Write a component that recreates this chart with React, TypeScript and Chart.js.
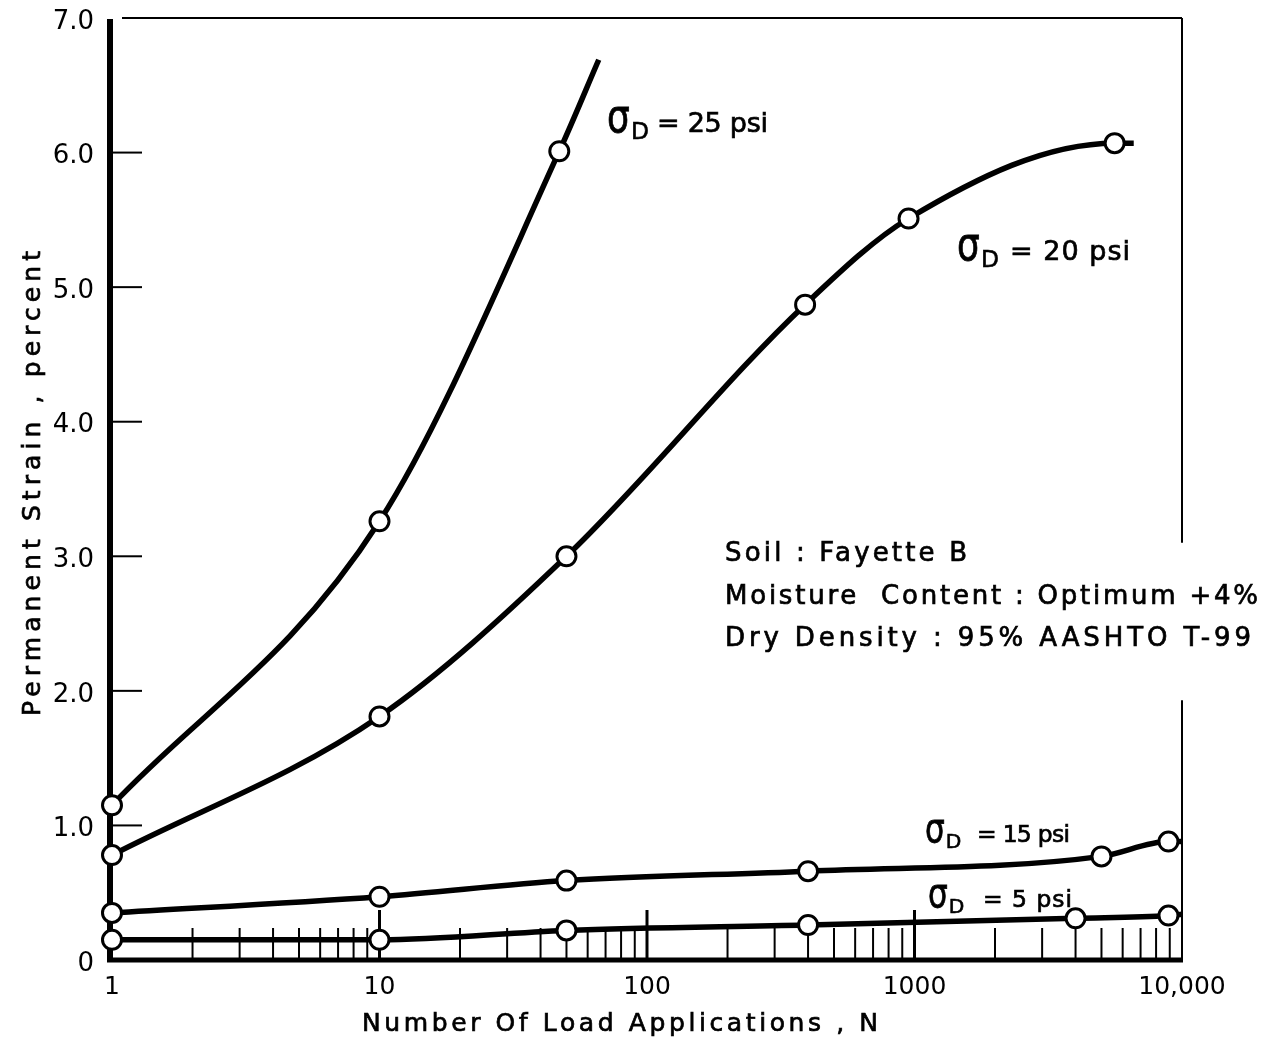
import React, { useEffect, useRef } from "react";
import { Chart, registerables } from "chart.js";

Chart.register(...registerables);

const FONT = '"DejaVu Sans", "Liberation Sans", Arial, sans-serif';

// ---- data ----
const xTickLabels: Record<number, string> = { 1: "1", 10: "10", 100: "100", 1000: "1000", 10000: "10,000" };
const yTickValues = [0, 1, 2, 3, 4, 5, 6, 7];
const yTickLabels = ["0", "1.0", "2.0", "3.0", "4.0", "5.0", "6.0", "7.0"];

const psi25N = [1, 10, 47, 66];
const psi25Strain = [1.15, 3.26, 6.01, 6.69];
const psi25Marker = [true, true, true, false];

const psi20N = [1, 10, 50, 390, 950, 5600, 6600];
const psi20Strain = [0.78, 1.81, 3.0, 4.87, 5.51, 6.07, 6.07];
const psi20Marker = [true, true, true, true, true, true, false];

const psi15N = [1, 10, 50, 400, 5000, 8900, 10000];
const psi15Strain = [0.35, 0.47, 0.59, 0.66, 0.77, 0.88, 0.88];
const psi15Marker = [true, true, true, true, true, true, false];

const psi5N = [1, 10, 50, 400, 4000, 8900, 10000];
const psi5Strain = [0.15, 0.15, 0.22, 0.26, 0.31, 0.33, 0.34];
const psi5Marker = [true, true, true, true, true, true, false];

const seriesLabels = ["25 psi", "20 psi", "15 psi", "5 psi"];
const infoLines = ["Soil : Fayette B", "Moisture  Content : Optimum +4%", "Dry Density : 95% AASHTO T-99"];
const xTitle = "Number Of Load Applications , N";
const yTitle = "Permanent Strain , percent";

const decades = [1, 10, 100, 1000];
const multipliers = [1, 2, 3, 4, 5, 6, 7, 8, 9];

function fitText(ctx: CanvasRenderingContext2D, text: string, x: number, y: number, width: number, stroke = 0.7) {
  (ctx as any).letterSpacing = "0px";
  const w = ctx.measureText(text).width;
  const n = Math.max(1, text.length - 1);
  const ls = (width - w) / n;
  (ctx as any).letterSpacing = `${ls}px`;
  ctx.textAlign = "left";
  ctx.fillText(text, x, y);
  if (stroke > 0) {
    ctx.lineWidth = stroke;
    ctx.strokeStyle = "#000";
    ctx.strokeText(text, x, y);
  }
  (ctx as any).letterSpacing = "0px";
}

function drawSigma(ctx: CanvasRenderingContext2D, x: number, eqX: number, base: number, size: number, end: number, text: string) {
  ctx.save();
  ctx.fillStyle = "#000";
  ctx.strokeStyle = "#000";
  ctx.textBaseline = "alphabetic";
  ctx.textAlign = "left";
  ctx.font = `${size * 1.2}px ${FONT}`;
  ctx.translate(x, base);
  ctx.scale(1, 1.3);
  ctx.fillText("σ", 0, 0);
  ctx.lineWidth = 0.6;
  ctx.strokeText("σ", 0, 0);
  ctx.restore();
  ctx.save();
  ctx.fillStyle = "#000";
  ctx.strokeStyle = "#000";
  ctx.textBaseline = "alphabetic";
  ctx.font = `${size * 0.78}px ${FONT}`;
  ctx.fillText("D", x + size * 0.8, base + size * 0.22);
  ctx.lineWidth = 0.6;
  ctx.strokeText("D", x + size * 0.8, base + size * 0.22);
  ctx.font = `${size * 0.9}px ${FONT}`;
  fitText(ctx, "= " + text, eqX, base, end - eqX);
  ctx.restore();
}

const framePlugin = {
  id: "frame",
  beforeDatasetsDraw(chart: any) {
    const { ctx, chartArea: a, scales } = chart;
    const xs = scales.x;
    const ys = scales.y;
    const line = (x1: number, y1: number, x2: number, y2: number, w: number) => {
      ctx.lineWidth = w;
      ctx.beginPath();
      ctx.moveTo(x1, y1);
      ctx.lineTo(x2, y2);
      ctx.stroke();
    };
    ctx.save();
    ctx.strokeStyle = "#000";
    ctx.lineCap = "butt";
    // left axis (thick)
    line(a.left - 2, a.top + 1, a.left - 2, a.bottom + 2, 6);
    // bottom axis (thick)
    line(a.left - 5, a.bottom, a.right + 1, a.bottom, 5);
    // top border
    line(a.left + 10, a.top, a.right, a.top, 2);
    // right border with gap for the note
    line(a.right, a.top, a.right, ys.getPixelForValue(3.1), 2);
    line(a.right, ys.getPixelForValue(1.93), a.right, a.bottom, 2);
    // y ticks inside
    for (let v = 1; v <= 6; v++) {
      const py = ys.getPixelForValue(v);
      line(a.left, py, a.left + 30, py, 2);
    }
    // x ticks inside (log minor + major)
    decades.forEach((d) => {
      multipliers.forEach((m) => {
        const v = d * m;
        if (v <= 1) return;
        const major = m === 1;
        const px = xs.getPixelForValue(v);
        line(px, a.bottom, px, a.bottom - (major ? 50 : 32), major ? 3 : 2);
      });
    });
    ctx.restore();
  },
  afterDraw(chart: any) {
    const { ctx } = chart;
    ctx.save();
    ctx.fillStyle = "#000";
    ctx.textBaseline = "alphabetic";
    // axis titles
    ctx.font = `25px ${FONT}`;
    fitText(ctx, xTitle, 362, 1031, 516);
    ctx.save();
    ctx.translate(40, 484);
    ctx.rotate(-Math.PI / 2);
    fitText(ctx, yTitle, -232, 0, 465);
    ctx.restore();
    // info block
    ctx.font = `26px ${FONT}`;
    fitText(ctx, infoLines[0], 725, 561, 242);
    fitText(ctx, infoLines[1], 725, 604, 533);
    fitText(ctx, infoLines[2], 725, 646, 526);
    ctx.restore();
    // series labels
    drawSigma(ctx, 607, 657, 132, 30, 768, seriesLabels[0]);
    drawSigma(ctx, 957, 1010, 260, 30, 1130, seriesLabels[1]);
    drawSigma(ctx, 925, 977, 842, 26, 1070, seriesLabels[2]);
    drawSigma(ctx, 928, 983, 907, 26, 1072, seriesLabels[3]);
  },
};

function makeSeries(ns: number[], vals: number[], markers: boolean[]) {
  return {
    data: ns.map((n, i) => ({ x: n, y: vals[i] })),
    borderColor: "#000",
    borderWidth: 5.5,
    backgroundColor: "#fff",
    pointBackgroundColor: "#fff",
    pointBorderColor: "#000",
    pointBorderWidth: 3,
    pointRadius: (c: any) => (markers[c.dataIndex] ? 9.5 : 0),
    cubicInterpolationMode: "monotone" as const,
    fill: false,
    clip: false as any,
  };
}

export default function App() {
  const ref = useRef<HTMLCanvasElement | null>(null);
  useEffect(() => {
    if (!ref.current) return;
    const chart = new Chart(ref.current, {
      type: "line",
      data: {
        datasets: [
          makeSeries(psi25N, psi25Strain, psi25Marker),
          makeSeries(psi20N, psi20Strain, psi20Marker),
          makeSeries(psi15N, psi15Strain, psi15Marker),
          makeSeries(psi5N, psi5Strain, psi5Marker),
        ] as any,
      },
      options: {
        animation: false,
        responsive: false,
        maintainAspectRatio: false,
        events: [],
        layout: { padding: { top: 18, right: 80, left: 0, bottom: 0 } },
        plugins: { legend: { display: false }, tooltip: { enabled: false } },
        scales: {
          x: {
            type: "logarithmic",
            min: 1,
            max: 10000,
            position: "bottom",
            grid: { display: false, drawTicks: false, tickLength: 0 },
            border: { display: false },
            afterFit: (s: any) => {
              s.height = 80;
              s.paddingLeft = 0;
              s.paddingRight = 0;
            },
            afterBuildTicks: (s: any) => {
              s.ticks = Object.keys(xTickLabels).map((k) => ({ value: Number(k), major: true }));
            },
            ticks: {
              autoSkip: false,
              maxRotation: 0,
              padding: 12,
              color: "#000",
              font: { family: FONT, size: 25 },
              callback: (v: any) => xTickLabels[Number(v)] ?? "",
            },
          },
          y: {
            type: "linear",
            min: 0,
            max: 7,
            grid: { display: false, drawTicks: false, tickLength: 0 },
            border: { display: false },
            afterFit: (s: any) => {
              s.width = 112;
              s.paddingTop = 0;
              s.paddingBottom = 0;
            },
            afterBuildTicks: (s: any) => {
              s.ticks = yTickValues.map((v) => ({ value: v }));
            },
            ticks: {
              padding: 18,
              labelOffset: 4,
              color: "#000",
              font: { family: FONT, size: 26 },
              callback: (v: any) => yTickLabels[yTickValues.indexOf(Number(v))] ?? "",
            },
          },
        },
      },
      plugins: [framePlugin],
    });
    return () => chart.destroy();
  }, []);
  return (
    <div style={{ position: "absolute", left: 0, top: 0, width: 1262, height: 1040, background: "#fff" }}>
      <canvas ref={ref} width={1262} height={1040} style={{ display: "block" }} />
    </div>
  );
}
